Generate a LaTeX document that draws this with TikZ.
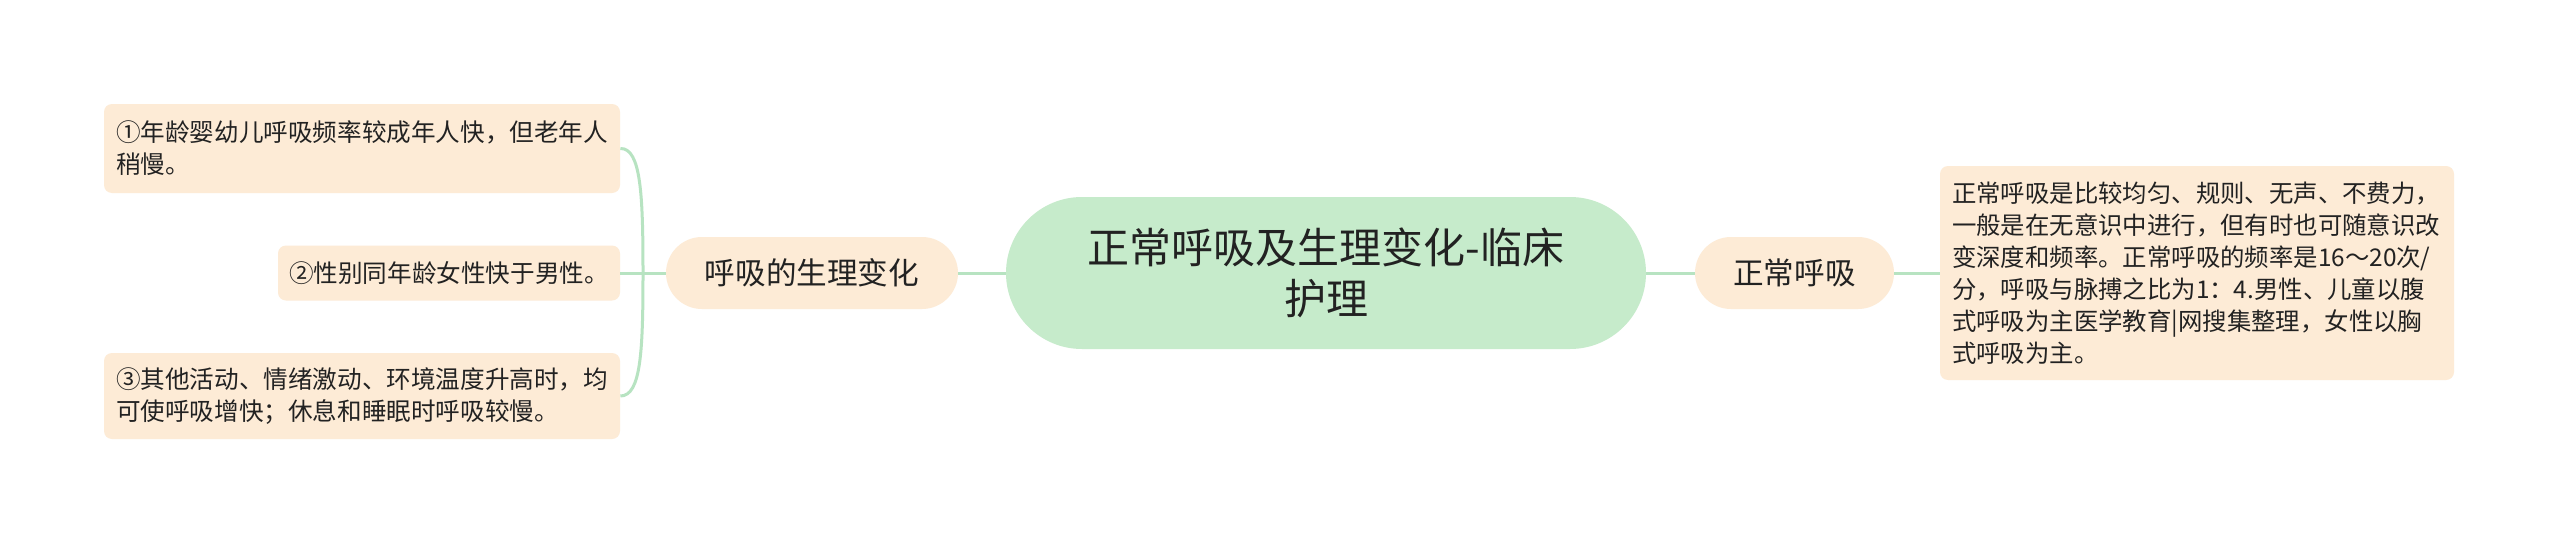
\documentclass[tikz,border=0pt]{standalone}
\usepackage{fontspec}
\setmainfont{Noto Sans CJK SC}
\definecolor{rootfill}{RGB}{198,235,203}
\definecolor{peach}{RGB}{253,235,214}
\definecolor{linkc}{RGB}{183,227,193}
\definecolor{txt}{RGB}{34,34,34}
\begin{document}
\begin{tikzpicture}[x=0.5pt,y=-0.5pt,
  rootbox/.style={fill=rootfill, rounded corners=38pt, minimum width=320pt, minimum height=76pt,
    align=center, font=\fontsize{21}{25.5}\selectfont, text=txt, inner sep=0pt},
  midbox/.style={fill=peach, rounded corners=18pt, minimum height=36pt, inner sep=0pt,
    font=\fontsize{15.3}{18}\selectfont, text=txt},
  leafbox/.style={fill=peach, rounded corners=4pt, align=left, inner sep=0pt,
    font=\fontsize{12.3}{16}\selectfont, text=txt},
  link/.style={draw=linkc, line width=1.5pt}]
\useasboundingbox[fill=white] (0,0) rectangle (2560,546);
\node[rootbox] (root) at (1326,273) {正常呼吸及生理变化-临床\\护理};
\node[midbox, minimum width=146pt] (phys) at (812,273) {呼吸的生理变化};
\node[midbox, minimum width=99.5pt] (norm) at (1794.5,273) {正常呼吸};
\node[leafbox, minimum width=258pt, minimum height=44.5pt, text width=246pt] (l1) at (362,148.5)
  {①年龄婴幼儿呼吸频率较成年人快，但老年人\\稍慢。};
\node[leafbox, minimum width=171pt, minimum height=27.5pt, text width=160pt] (l2) at (449,273)
  {②性别同年龄女性快于男性。};
\node[leafbox, minimum width=258pt, minimum height=43pt, text width=246pt] (l3) at (362,396)
  {③其他活动、情绪激动、环境温度升高时，均\\可使呼吸增快；休息和睡眠时呼吸较慢。};
\node[leafbox, minimum width=257pt, minimum height=107pt, text width=245pt, font=\fontsize{12.2}{16}\selectfont] (r1) at (2197,273)
  {正常呼吸是比较均匀、规则、无声、不费力，\\一般是在无意识中进行，但有时也可随意识改\\变深度和频率。正常呼吸的频率是16～20次/\\分，呼吸与脉搏之比为1：4.男性、儿童以腹\\式呼吸为主医学教育|网搜集整理，女性以胸\\式呼吸为主。};
\coordinate (tr) at (643,273);
\draw[link] (root.west) -- (phys.east);
\draw[link] (root.east) -- (norm.west);
\draw[link] (norm.east) -- (r1.west);
\draw[link] (phys.west) -- (l2.east);
\draw[link] (tr) .. controls (643,195) and (641,148) .. (l1.east);
\draw[link] (tr) .. controls (643,351) and (641,396) .. (l3.east);
\end{tikzpicture}
\end{document}
